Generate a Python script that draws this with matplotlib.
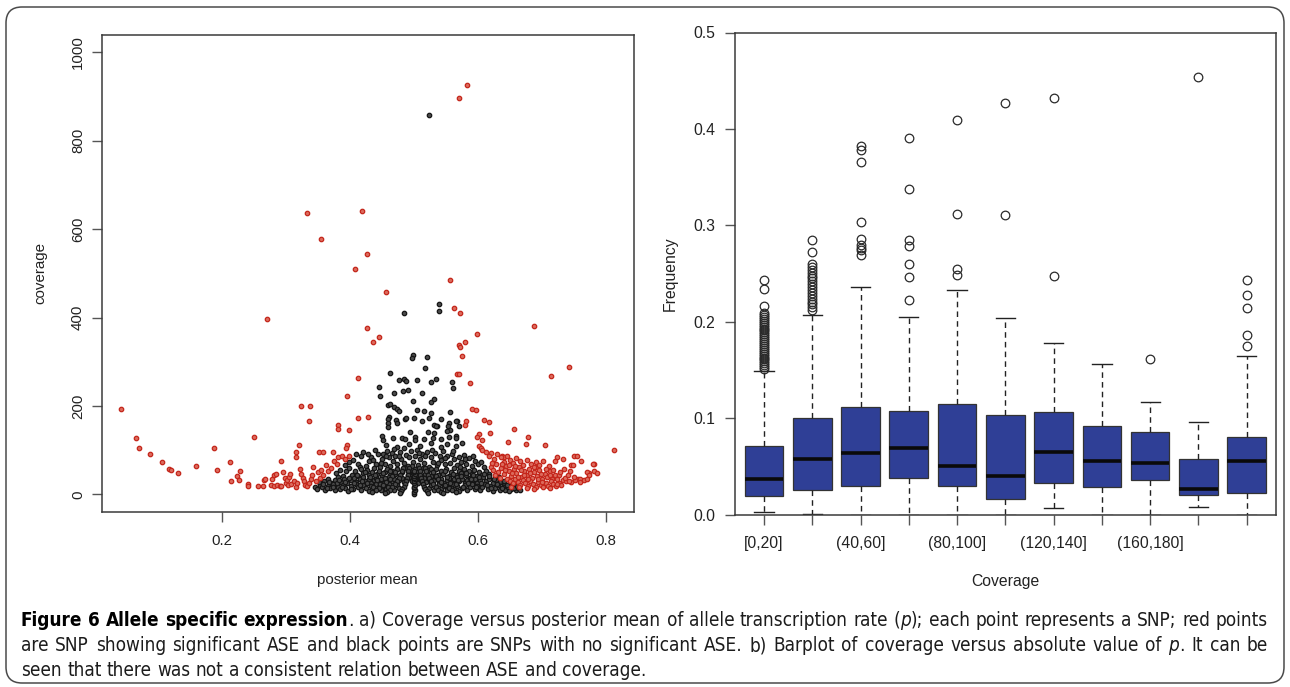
import matplotlib
matplotlib.use("Agg")
import matplotlib.pyplot as plt
from matplotlib.patches import FancyBboxPatch
from matplotlib import font_manager as fm

# ------------------------------------------------------------------ data
# a) scatter: (posterior mean, coverage)
black_sparse = [
    (0.523, 859), (0.539, 430), (0.539, 416), (0.484, 410),
    (0.499, 315), (0.497, 308), (0.521, 310), (0.517, 285), (0.463, 274),
    (0.477, 259), (0.484, 261), (0.488, 256), (0.505, 259), (0.526, 255), (0.534, 261), (0.560, 255),
    (0.446, 242), (0.469, 230), (0.483, 234), (0.490, 236), (0.512, 230), (0.561, 240), (0.447, 223),
    (0.499, 212), (0.526, 210), (0.531, 217), (0.459, 202), (0.463, 204), (0.469, 197), (0.474, 193),
    (0.477, 189), (0.504, 190), (0.515, 188), (0.526, 185), (0.556, 186),
    (0.461, 176), (0.472, 168), (0.486, 170), (0.500, 174), (0.512, 167), (0.524, 172), (0.568, 167),
    (0.459, 171), (0.487, 173), (0.542, 171), (0.566, 166), (0.460, 162), (0.474, 161), (0.554, 162),
    (0.531, 158), (0.536, 154), (0.553, 154), (0.570, 156), (0.460, 153), (0.534, 155), (0.556, 146),
    (0.494, 142), (0.522, 142), (0.552, 143), (0.531, 138), (0.566, 132), (0.450, 132), (0.451, 123),
    (0.468, 127), (0.481, 127), (0.486, 125), (0.502, 130), (0.501, 123), (0.515, 126), (0.530, 128),
    (0.543, 125), (0.555, 130), (0.566, 127), (0.457, 112), (0.474, 107), (0.492, 115), (0.510, 110),
    (0.526, 117), (0.542, 108), (0.552, 114), (0.565, 110), (0.575, 116),
]
black_mid = [
    (0.405, 78), (0.412, 70), (0.418, 88), (0.421, 97), (0.425, 65), (0.430, 75), (0.433, 84),
    (0.439, 100), (0.440, 68), (0.444, 92), (0.447, 62), (0.450, 80), (0.452, 91), (0.455, 70),
    (0.458, 99), (0.461, 85), (0.463, 64), (0.465, 94), (0.468, 76), (0.471, 88), (0.474, 68),
    (0.478, 96), (0.480, 80), (0.484, 72), (0.487, 90), (0.490, 64), (0.493, 84), (0.496, 98),
    (0.499, 74), (0.502, 88), (0.504, 100), (0.507, 66), (0.510, 80), (0.513, 92), (0.516, 71),
    (0.520, 97), (0.523, 62), (0.526, 84), (0.530, 74), (0.533, 94), (0.536, 66), (0.540, 86),
    (0.543, 77), (0.546, 98), (0.549, 68), (0.552, 88), (0.556, 72), (0.559, 92), (0.563, 80),
    (0.567, 66), (0.570, 85), (0.574, 74), (0.578, 90), (0.582, 70), (0.586, 82), (0.590, 64),
    (0.595, 76), (0.600, 68),
    (0.392, 66), (0.398, 74), (0.409, 92), (0.415, 62), (0.428, 92), (0.436, 78), (0.448, 72),
    (0.457, 88), (0.469, 102), (0.476, 86), (0.485, 104), (0.497, 64), (0.508, 94), (0.518, 86),
    (0.528, 100), (0.538, 72), (0.548, 82), (0.561, 98), (0.572, 62), (0.580, 80), (0.592, 88),
    (0.604, 74), (0.610, 62),
    (0.378, 48), (0.384, 56), (0.389, 42), (0.394, 52), (0.399, 59), (0.403, 45), (0.408, 53),
    (0.413, 41), (0.417, 57), (0.421, 48), (0.426, 55), (0.430, 43), (0.434, 51), (0.438, 59),
    (0.442, 46), (0.446, 54), (0.450, 41), (0.454, 50), (0.458, 58), (0.462, 44), (0.466, 53),
    (0.470, 47), (0.474, 57), (0.478, 42), (0.482, 51), (0.486, 59), (0.490, 45), (0.494, 54),
    (0.498, 48), (0.502, 58), (0.506, 43), (0.510, 52), (0.514, 60), (0.518, 46), (0.522, 55),
    (0.526, 41), (0.530, 50), (0.534, 58), (0.538, 44), (0.542, 53), (0.546, 47), (0.550, 57),
    (0.554, 42), (0.558, 51), (0.562, 59), (0.566, 45), (0.570, 54), (0.574, 48), (0.578, 57),
    (0.582, 43), (0.586, 52), (0.590, 46), (0.594, 55), (0.598, 41), (0.602, 50), (0.607, 44),
    (0.612, 52), (0.618, 46),
]
black_low = [
    (0.360, 30), (0.366, 36), (0.371, 27), (0.376, 33), (0.381, 39), (0.386, 29), (0.391, 35),
    (0.396, 26), (0.401, 32), (0.406, 38), (0.410, 28), (0.415, 34), (0.420, 40), (0.424, 30),
    (0.429, 36), (0.433, 26), (0.437, 32), (0.441, 38), (0.445, 29), (0.449, 35), (0.453, 27),
    (0.457, 33), (0.461, 39), (0.465, 30), (0.469, 36), (0.473, 26), (0.477, 32), (0.481, 38),
    (0.485, 28), (0.489, 34), (0.493, 40), (0.497, 30), (0.503, 36), (0.507, 26), (0.511, 32),
    (0.515, 38), (0.519, 29), (0.523, 35), (0.527, 27), (0.531, 33), (0.535, 39), (0.539, 30),
    (0.543, 36), (0.547, 26), (0.551, 32), (0.555, 38), (0.559, 28), (0.563, 34), (0.567, 40),
    (0.571, 30), (0.575, 36), (0.579, 26), (0.583, 32), (0.587, 38), (0.591, 29), (0.595, 35),
    (0.599, 27), (0.603, 33), (0.608, 39), (0.613, 30), (0.618, 36), (0.623, 27), (0.628, 33),
    (0.634, 29), (0.640, 25),
    (0.345, 18), (0.349, 13), (0.353, 22), (0.357, 16), (0.361, 10), (0.365, 20), (0.369, 14),
    (0.373, 24), (0.377, 9), (0.381, 18), (0.385, 12), (0.389, 22), (0.393, 15), (0.397, 8),
    (0.401, 20), (0.405, 13), (0.409, 24), (0.413, 17), (0.417, 10), (0.421, 21), (0.425, 14),
    (0.429, 7), (0.433, 19), (0.437, 12), (0.441, 23), (0.445, 16), (0.449, 9), (0.453, 20),
    (0.457, 13), (0.461, 24), (0.465, 17), (0.469, 10), (0.473, 21), (0.477, 14),
    (0.523, 14), (0.527, 21), (0.531, 10), (0.535, 17), (0.539, 24), (0.543, 13), (0.547, 20),
    (0.551, 9), (0.555, 16), (0.559, 23), (0.563, 12), (0.567, 19), (0.571, 7), (0.575, 14),
    (0.579, 21), (0.583, 10), (0.587, 17), (0.591, 24), (0.595, 13), (0.599, 20), (0.603, 9),
    (0.607, 16), (0.611, 23), (0.615, 12), (0.619, 19), (0.623, 8), (0.627, 15), (0.631, 22),
    (0.635, 11), (0.639, 18), (0.643, 10), (0.647, 16), (0.651, 12), (0.655, 18), (0.659, 10),
    (0.663, 14),
    (0.352, 28), (0.358, 24), (0.364, 14), (0.368, 28), (0.374, 18), (0.379, 26), (0.383, 33),
    (0.388, 16), (0.392, 28), (0.398, 38), (0.402, 12), (0.407, 26), (0.411, 44), (0.416, 22),
    (0.419, 31), (0.423, 50), (0.427, 25), (0.431, 40), (0.436, 18), (0.439, 45), (0.443, 33),
    (0.447, 24), (0.451, 48), (0.455, 38), (0.459, 18), (0.463, 52), (0.548, 52), (0.552, 40),
    (0.556, 27), (0.561, 47), (0.565, 24), (0.569, 33), (0.573, 42), (0.577, 18), (0.581, 49),
    (0.585, 26), (0.589, 34), (0.593, 44), (0.597, 17), (0.601, 40), (0.605, 25), (0.609, 47),
    (0.614, 21), (0.617, 41), (0.621, 15), (0.625, 35), (0.629, 24), (0.633, 40), (0.637, 15),
    (0.641, 30), (0.645, 22), (0.649, 8), (0.653, 24), (0.657, 14), (0.661, 20), (0.666, 9),
]
black_fan = [
    (0.500, 2), (0.500, 6), (0.501, 10), (0.500, 14), (0.500, 18), (0.501, 22), (0.500, 26),
    (0.500, 30), (0.501, 34), (0.500, 38), (0.500, 42), (0.501, 46), (0.500, 50), (0.500, 54),
    (0.492, 60), (0.491, 52), (0.490, 45), (0.489, 38), (0.488, 31), (0.486, 24), (0.484, 18),
    (0.482, 12), (0.480, 7), (0.478, 3),
    (0.508, 60), (0.509, 52), (0.510, 45), (0.511, 38), (0.512, 31), (0.514, 24), (0.516, 18),
    (0.518, 12), (0.520, 7), (0.522, 3),
    (0.483, 60), (0.481, 52), (0.478, 44), (0.476, 37), (0.473, 30), (0.470, 23), (0.466, 17),
    (0.462, 11), (0.458, 6), (0.454, 3),
    (0.517, 60), (0.519, 52), (0.522, 44), (0.524, 37), (0.527, 30), (0.530, 23), (0.534, 17),
    (0.538, 11), (0.542, 6), (0.546, 3),
    (0.474, 58), (0.470, 50), (0.466, 42), (0.462, 35), (0.457, 28), (0.452, 21), (0.446, 15),
    (0.440, 10), (0.434, 6),
    (0.526, 58), (0.530, 50), (0.534, 42), (0.538, 35), (0.543, 28), (0.548, 21), (0.554, 15),
    (0.560, 10), (0.566, 6),
]
red_sparse = [
    (0.583, 927), (0.570, 896), (0.333, 637), (0.419, 641), (0.355, 577), (0.426, 543),
    (0.408, 510), (0.456, 459), (0.556, 486), (0.563, 422), (0.572, 410), (0.270, 397),
    (0.687, 381), (0.427, 376), (0.446, 357), (0.436, 345), (0.599, 363), (0.579, 346),
    (0.571, 337), (0.572, 334), (0.575, 313), (0.743, 288), (0.567, 273), (0.570, 272),
    (0.714, 268), (0.412, 264), (0.588, 253), (0.395, 223), (0.324, 201), (0.337, 201),
    (0.042, 194), (0.591, 194), (0.597, 190), (0.412, 172), (0.428, 175), (0.610, 169),
    (0.617, 163), (0.336, 166), (0.382, 158), (0.381, 149), (0.399, 145), (0.656, 147),
    (0.582, 166), (0.580, 158), (0.619, 139), (0.601, 136), (0.598, 130), (0.678, 131),
    (0.675, 114), (0.250, 129), (0.065, 127), (0.606, 123), (0.647, 119), (0.320, 113),
    (0.315, 95), (0.187, 106), (0.070, 104), (0.704, 113), (0.812, 100), (0.601, 110),
    (0.604, 106), (0.607, 101), (0.395, 112), (0.394, 106), (0.088, 91), (0.352, 97),
    (0.358, 97), (0.374, 97), (0.620, 93), (0.638, 87), (0.640, 85), (0.107, 74), (0.118, 58),
    (0.121, 56), (0.132, 49), (0.159, 64), (0.193, 56), (0.213, 73), (0.214, 30), (0.229, 54),
    (0.224, 42), (0.226, 33), (0.293, 76), (0.316, 84), (0.382, 84), (0.388, 88),
    (0.724, 84), (0.733, 81), (0.750, 88), (0.755, 87), (0.761, 76), (0.720, 75), (0.746, 67),
    (0.781, 69), (0.690, 62), (0.702, 75), (0.711, 64), (0.773, 49), (0.781, 54), (0.786, 49),
    (0.720, 45), (0.727, 44), (0.733, 32), (0.746, 29), (0.757, 35), (0.780, 70), (0.749, 66),
    (0.738, 31), (0.751, 33), (0.770, 51), (0.774, 44), (0.759, 34),
]
red_left = [
    (0.241, 23), (0.241, 20), (0.256, 20), (0.264, 19), (0.265, 33), (0.267, 36), (0.278, 36),
    (0.282, 44), (0.284, 47), (0.277, 21), (0.281, 19), (0.286, 22), (0.290, 20), (0.293, 19),
    (0.296, 50), (0.298, 37), (0.300, 26), (0.302, 33), (0.304, 40), (0.306, 46), (0.303, 21),
    (0.308, 23), (0.312, 30), (0.315, 18), (0.318, 25), (0.322, 57), (0.324, 47), (0.326, 38),
    (0.328, 30), (0.330, 22), (0.333, 19), (0.336, 27), (0.339, 35), (0.341, 43), (0.343, 61),
    (0.347, 31), (0.350, 50), (0.353, 38), (0.355, 56), (0.358, 45), (0.362, 66), (0.366, 52),
    (0.370, 60), (0.375, 75), (0.380, 70), (0.392, 80), (0.398, 88),
]
red_right = [
    (0.612, 96), (0.618, 88), (0.625, 80), (0.630, 92), (0.636, 84), (0.641, 74), (0.645, 88),
    (0.650, 79), (0.655, 71), (0.660, 83), (0.665, 75), (0.670, 66), (0.676, 78), (0.683, 70),
    (0.690, 74), (0.696, 66),
    (0.620, 62), (0.624, 55), (0.628, 68), (0.632, 50), (0.636, 60), (0.640, 46), (0.644, 64),
    (0.648, 54), (0.652, 42), (0.656, 58), (0.660, 49), (0.664, 62), (0.668, 40), (0.672, 53),
    (0.676, 45), (0.680, 58), (0.684, 38), (0.688, 50), (0.692, 42), (0.696, 55), (0.700, 36),
    (0.704, 47), (0.708, 40), (0.712, 52), (0.716, 35),
    (0.646, 36), (0.650, 30), (0.654, 25), (0.658, 34), (0.662, 28), (0.666, 22), (0.670, 32),
    (0.674, 26), (0.678, 20), (0.682, 30), (0.686, 24), (0.690, 18), (0.694, 28), (0.698, 22),
    (0.702, 17), (0.706, 26), (0.710, 20), (0.714, 30), (0.718, 24), (0.722, 19), (0.726, 27),
    (0.730, 22), (0.736, 38), (0.742, 30), (0.750, 40), (0.760, 28), (0.765, 32), (0.770, 35),
    (0.622, 72), (0.626, 45), (0.634, 38), (0.638, 70), (0.642, 55), (0.648, 66), (0.653, 48),
    (0.658, 64), (0.662, 40), (0.667, 56), (0.672, 44), (0.678, 36), (0.682, 48), (0.687, 62),
    (0.694, 35), (0.698, 46), (0.706, 58), (0.712, 44), (0.718, 56), (0.724, 36), (0.728, 50),
    (0.734, 58), (0.740, 44), (0.744, 52), (0.652, 17), (0.664, 16), (0.676, 14), (0.688, 13),
    (0.700, 28), (0.712, 14), (0.724, 24),
]
scatter_xticks = [0.2, 0.4, 0.6, 0.8]
scatter_yticks = [0, 200, 400, 600, 800, 1000]

# b) box plot of |p| by coverage bin
coverage_bins = ["[0,20]", "(20,40]", "(40,60]", "(60,80]", "(80,100]", "(100,120]",
                 "(120,140]", "(140,160]", "(160,180]", "(180,200]", "(200,220]"]
shown_bin_labels = ["[0,20]", "(40,60]", "(80,100]", "(120,140]", "(160,180]"]
whisker_lo = [0.003, 0.001, 0.000, 0.000, 0.000, 0.000, 0.007, 0.000, 0.000, 0.0075, 0.000]
box_q1 = [0.019, 0.026, 0.030, 0.038, 0.030, 0.016, 0.033, 0.029, 0.036, 0.0206, 0.022]
box_median = [0.0365, 0.0575, 0.0635, 0.069, 0.050, 0.040, 0.0655, 0.0556, 0.054, 0.027, 0.056]
box_q3 = [0.0714, 0.100, 0.112, 0.108, 0.115, 0.103, 0.107, 0.092, 0.086, 0.0575, 0.081]
whisker_hi = [0.149, 0.2075, 0.236, 0.205, 0.233, 0.204, 0.178, 0.156, 0.117, 0.096, 0.165]
outliers = [
    [0.151, 0.153, 0.155, 0.157, 0.159, 0.161, 0.163, 0.165, 0.167, 0.169, 0.171, 0.173,
     0.175, 0.177, 0.179, 0.181, 0.183, 0.185, 0.187, 0.189, 0.191, 0.193, 0.195, 0.197,
     0.199, 0.201, 0.203, 0.205, 0.207, 0.209, 0.216, 0.234, 0.243],
    [0.212, 0.215, 0.218, 0.221, 0.224, 0.227, 0.230, 0.233, 0.236, 0.239, 0.242, 0.245,
     0.248, 0.251, 0.254, 0.257, 0.260, 0.272, 0.285],
    [0.269, 0.274, 0.277, 0.280, 0.286, 0.304, 0.366, 0.378, 0.382],
    [0.223, 0.246, 0.260, 0.279, 0.2845, 0.338, 0.391],
    [0.249, 0.2548, 0.3115, 0.409],
    [0.311, 0.427],
    [0.248, 0.4325],
    [],
    [0.1615],
    [0.454],
    [0.1746, 0.1865, 0.214, 0.228, 0.243],
]
freq_yticks = [0.0, 0.1, 0.2, 0.3, 0.4, 0.5]

caption_lines = [
    "*Figure 6 Allele specific expression*. a) Coverage versus posterior mean of allele "
    "transcription rate (_p_); each point represents a SNP; red points",
    "are SNP showing significant ASE and black points are SNPs with no significant ASE. "
    "b) Barplot of coverage versus absolute value of _p_. It can be",
    "seen that there was not a consistent relation between ASE and coverage.",
]

# ------------------------------------------------------------------ figure
W, H = 1290, 687
fig = plt.figure(figsize=(W / 100, H / 100), dpi=100)
SANS = ["Liberation Sans", "DejaVu Sans"]
plt.rcParams["font.family"] = SANS

def px_axes(l, t, r, b):
    return fig.add_axes([l / W, 1 - b / H, (r - l) / W, (b - t) / H])

spine_col = "#3a3a3a"
tick_col = "#555555"
text_col = "#222222"

# ---------------- panel a
ax1 = px_axes(101.6, 35.2, 633.5, 511.7)
blk = black_sparse + black_mid + black_low + black_fan
red = red_sparse + red_left + red_right
ax1.plot([p[0] for p in blk], [p[1] for p in blk], "o", ms=3.2, mfc="#4a4a4a",
         mec="#151515", mew=0.9, ls="none")
ax1.plot([p[0] for p in red], [p[1] for p in red], "o", ms=3.2, mfc="#dc6a5c",
         mec="#c4261b", mew=0.9, ls="none")
ax1.set_xlim(0.012, 0.843)
ax1.set_ylim(-39, 1039)
ax1.set_xticks(scatter_xticks)
ax1.set_xticklabels([f"{v:.1f}" for v in scatter_xticks])
ax1.set_yticks(scatter_yticks)
ax1.set_yticklabels([str(v) for v in scatter_yticks], rotation=90, va="center")
ax1.tick_params(axis="both", direction="out", length=7, width=1, color=tick_col,
                labelsize=10.8, labelcolor=text_col)
ax1.tick_params(axis="x", pad=9)
ax1.tick_params(axis="y", pad=5)
ax1.text(0.5, -0.143, "posterior mean", transform=ax1.transAxes, ha="center",
         va="center", fontsize=10.9, color=text_col)
ax1.text(-0.116, 0.5, "coverage", transform=ax1.transAxes, ha="center", va="center",
         rotation=90, fontsize=10.9, color=text_col)

# ---------------- panel b
ax2 = px_axes(735.0, 32.5, 1275.7, 514.7)
stats = []
for i, name in enumerate(coverage_bins):
    stats.append(dict(label=name, whislo=whisker_lo[i], q1=box_q1[i], med=box_median[i],
                      q3=box_q3[i], whishi=whisker_hi[i], fliers=outliers[i]))
positions = list(range(1, len(coverage_bins) + 1))
ax2.bxp(stats, positions=positions, widths=0.8, capwidths=0.4, patch_artist=True,
        boxprops=dict(facecolor="#2f3f96", edgecolor="#333333", linewidth=0.9),
        medianprops=dict(color="#0a0a0a", linewidth=2.6, solid_capstyle="butt"),
        whiskerprops=dict(color="#222222", linewidth=1.0, linestyle=(0, (4, 3))),
        capprops=dict(color="#222222", linewidth=1.0),
        flierprops=dict(marker="o", markersize=6.2, markerfacecolor="none",
                        markeredgecolor="#2a2a2a", markeredgewidth=0.9))
ax2.set_xlim(0.4, 11.6)
ax2.set_ylim(0, 0.5)
ax2.set_xticks(positions)
ax2.set_xticklabels([n if n in shown_bin_labels else "" for n in coverage_bins])
ax2.set_yticks(freq_yticks)
ax2.set_yticklabels([f"{v:.1f}" for v in freq_yticks])
ax2.tick_params(axis="both", direction="out", length=7, width=1, color=tick_col,
                labelsize=11.3, labelcolor=text_col)
ax2.tick_params(axis="x", pad=8)
ax2.tick_params(axis="y", pad=7)
ax2.text(0.5, -0.1375, "Coverage", transform=ax2.transAxes, ha="center", va="center",
         fontsize=11.3, color=text_col)
ax2.text(-0.120, 0.5, "Frequency", transform=ax2.transAxes, ha="center", va="center",
         rotation=90, fontsize=11.3, color=text_col)

for ax in (ax1, ax2):
    for s in ax.spines.values():
        s.set_color(spine_col)
        s.set_linewidth(1.1)

# ---------------- outer frame
frame = FancyBboxPatch((0.06, 0.04), 12.78, 6.76,
                       boxstyle="round,pad=0,rounding_size=0.16",
                       transform=fig.dpi_scale_trans, fill=False,
                       edgecolor="#4a4a4a", linewidth=1.1)
fig.patches.append(frame)

# ---------------- caption (justified, condensed face if one is installed)
def find_condensed():
    found = {}
    for f in fm.fontManager.ttflist:
        nm = f.name.lower()
        st = str(f.stretch).lower()
        if ("narrow" in nm or "condensed" in nm or st in ("condensed", "semi-condensed")) \
                and "mono" not in nm and "serif" not in nm.replace("sans", ""):
            w = f.weight if isinstance(f.weight, (int, float)) else \
                (700 if "bold" in str(f.weight).lower() else 400)
            key = (w >= 600, f.style != "normal")
            found.setdefault(key, f.fname)
    return found

COND = find_condensed()
CAP_SIZE = 13.6 if COND else 13.4
x_left, x_right = 21, 1268
line_y = [620, 645.5, 671]

def cap_props(b, it):
    if COND and (b, it) in COND:
        return fm.FontProperties(fname=COND[(b, it)], size=CAP_SIZE)
    if COND and not it:
        fname = COND.get((False, False)) or list(COND.values())[0]
        return fm.FontProperties(fname=fname, size=CAP_SIZE)
    return fm.FontProperties(family=["Liberation Sans", "DejaVu Sans"],
                             size=CAP_SIZE * (0.93 if COND else 1.0),
                             weight="bold" if b else "normal",
                             style="italic" if it else "normal")

def parse(line):
    words, bold, ital = [], False, False
    for w in line.split(" "):
        segs, buf = [], ""
        for ch in w:
            if ch in "*_":
                if buf:
                    segs.append((buf, bold, ital))
                    buf = ""
                if ch == "*":
                    bold = not bold
                else:
                    ital = not ital
            else:
                buf += ch
        if buf:
            segs.append((buf, bold, ital))
        words.append(segs)
    return words

fig.canvas.draw()
rend = fig.canvas.get_renderer()

def make(s, b, it):
    return fig.text(0, 0, s, fontproperties=cap_props(b, it),
                    color="#000000" if b else "#1c1c1c", ha="left", va="center")

t1 = make("a a", False, False)
t2 = make("aa", False, False)
space_w = t1.get_window_extent(rend).width - t2.get_window_extent(rend).width
t1.remove(); t2.remove()

for li, line in enumerate(caption_lines):
    words = parse(line)
    objs, widths = [], []
    for segs in words:
        row, wsum = [], 0.0
        for s, b, it in segs:
            t = make(s, b, it)
            w = t.get_window_extent(rend).width
            row.append((t, w))
            wsum += w
        objs.append(row)
        widths.append(wsum)
    justify = li < len(caption_lines) - 1
    gap = (x_right - x_left - sum(widths)) / (len(words) - 1) if justify else space_w
    x = x_left
    y = 1 - line_y[li] / H
    for row, wsum in zip(objs, widths):
        xx = x
        for t, w in row:
            t.set_position((xx / W, y))
            xx += w
        x += wsum + gap

fig.savefig("out.png", dpi=100)
